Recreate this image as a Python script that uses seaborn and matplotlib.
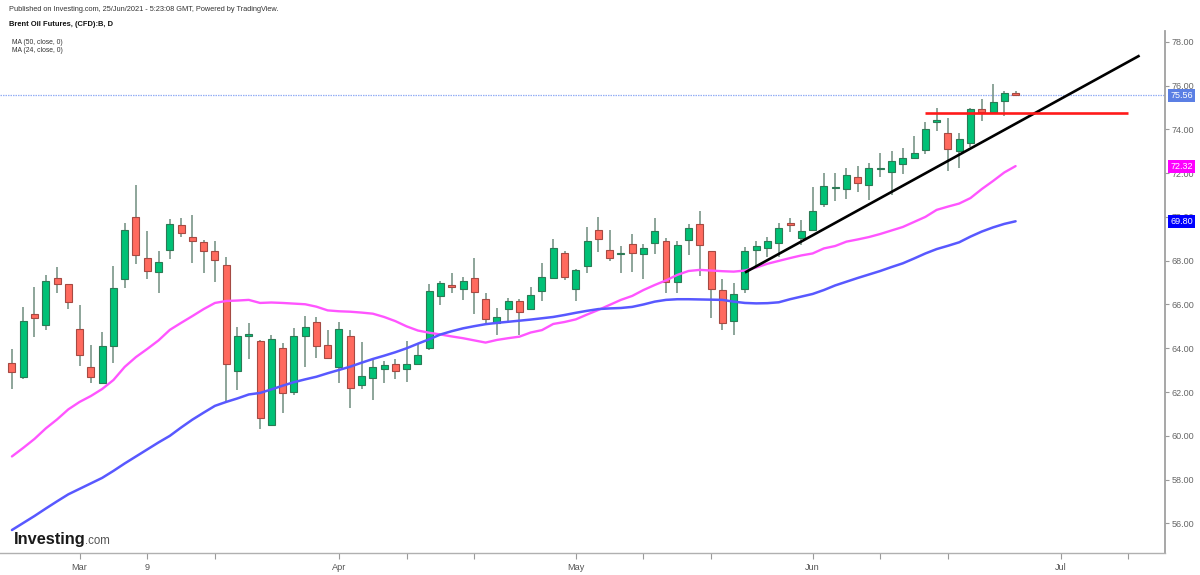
import numpy as np
import pandas as pd
import matplotlib
matplotlib.use("Agg")
import matplotlib.pyplot as plt
import seaborn as sns
from matplotlib.transforms import blended_transform_factory

sns.set_style("white")
plt.rcParams["font.family"] = ["Liberation Sans", "DejaVu Sans"]

# ---------------- data ----------------
first_day = "2021-02-19"
holidays = ["2021-04-02"]

opens = [63.34, 62.69, 65.55, 65.05, 67.21, 66.92, 64.88, 63.13, 62.40, 64.11,
         67.18, 69.98, 68.14, 67.47, 68.47, 69.63, 69.10, 68.84, 68.44, 67.80,
         62.98, 64.58, 64.35, 60.51, 64.00, 62.02, 64.58, 65.21, 64.15, 63.13,
         64.58, 62.32, 62.63, 63.04, 63.28, 63.04, 63.27, 64.03, 66.39, 66.89,
         66.72, 67.21, 66.24, 65.14, 65.79, 66.15, 65.78, 66.63, 67.21, 68.37,
         66.72, 67.77, 69.39, 68.49, 68.30, 68.76, 68.31, 68.79, 68.91, 67.01,
         68.95, 69.66, 68.43, 66.66, 65.26, 66.72, 68.49, 68.59, 68.79, 69.74,
         69.02, 69.40, 70.58, 71.33, 71.27, 71.84, 71.46, 72.20, 72.06, 72.42,
         72.70, 73.05, 74.32, 73.84, 73.02, 73.36, 74.93, 74.78, 75.31, 75.66]
highs = [63.97, 65.90, 66.81, 67.33, 67.73, 66.95, 65.96, 64.15, 64.73, 67.77,
         69.74, 71.46, 69.36, 68.44, 69.89, 69.94, 70.09, 68.95, 68.91, 68.18,
         64.99, 65.14, 64.40, 64.61, 64.23, 64.91, 65.47, 65.44, 64.84, 65.19,
         64.84, 64.30, 63.54, 63.43, 63.53, 64.35, 64.20, 66.92, 67.07, 67.42,
         67.24, 68.11, 66.54, 65.85, 66.28, 66.26, 66.79, 67.88, 68.98, 68.46,
         67.62, 69.55, 70.01, 69.40, 68.68, 69.22, 68.76, 69.94, 69.05, 68.91,
         69.68, 70.28, 68.44, 67.16, 66.97, 68.64, 68.90, 69.10, 69.71, 69.94,
         69.86, 71.35, 72.02, 72.02, 72.22, 72.32, 72.47, 72.93, 73.01, 73.13,
         73.69, 74.35, 74.99, 74.53, 73.82, 74.99, 75.37, 76.07, 75.76, 75.74]
lows = [62.13, 62.58, 64.50, 64.82, 66.54, 65.78, 63.19, 62.43, 62.35, 63.34,
        66.74, 67.86, 67.16, 66.54, 68.06, 69.10, 67.88, 67.42, 67.01, 61.53,
        62.10, 63.50, 60.30, 60.45, 61.03, 61.87, 63.16, 63.57, 63.50, 62.43,
        61.26, 62.13, 61.64, 62.43, 62.60, 62.46, 63.24, 63.92, 65.98, 66.51,
        66.21, 65.57, 65.06, 64.61, 65.21, 64.61, 65.75, 66.17, 67.18, 67.12,
        66.17, 67.42, 68.41, 68.00, 67.42, 67.47, 67.15, 68.29, 66.51, 66.54,
        68.26, 67.30, 65.37, 64.84, 64.61, 66.51, 67.76, 68.18, 68.18, 69.32,
        68.72, 69.35, 70.47, 70.74, 70.80, 71.15, 70.77, 71.84, 71.00, 71.96,
        72.63, 72.86, 73.94, 72.10, 72.25, 73.21, 74.38, 74.75, 74.61, 75.52]
closes = [62.92, 65.25, 65.40, 67.07, 66.92, 66.13, 63.69, 62.69, 64.11, 66.77,
          69.40, 68.25, 67.54, 67.93, 69.66, 69.25, 68.91, 68.43, 68.02, 63.30,
          64.56, 64.63, 60.80, 64.44, 61.95, 64.58, 64.99, 64.12, 63.54, 64.88,
          62.17, 62.74, 63.16, 63.22, 62.96, 63.27, 63.68, 66.62, 66.97, 66.79,
          67.07, 66.58, 65.32, 65.43, 66.15, 65.64, 66.42, 67.27, 68.57, 67.27,
          67.58, 68.91, 68.98, 68.11, 68.33, 68.37, 68.59, 69.37, 67.04, 68.72,
          69.51, 68.72, 66.69, 65.14, 66.47, 68.46, 68.68, 68.91, 69.51, 69.64,
          69.36, 70.28, 71.41, 71.37, 71.91, 71.53, 72.25, 72.24, 72.55, 72.70,
          72.90, 74.01, 74.42, 73.11, 73.54, 74.94, 74.80, 75.25, 75.64, 75.56]

ma50 = [55.70, 56.02, 56.34, 56.68, 57.01, 57.33, 57.58, 57.83, 58.08, 58.40,
        58.74, 59.06, 59.38, 59.70, 60.00, 60.38, 60.74, 61.06, 61.37, 61.55,
        61.71, 61.89, 61.96, 62.12, 62.29, 62.45, 62.58, 62.70, 62.86, 63.01,
        63.16, 63.34, 63.51, 63.66, 63.82, 64.00, 64.21, 64.41, 64.63, 64.78,
        64.91, 65.01, 65.10, 65.16, 65.21, 65.26, 65.31, 65.37, 65.43, 65.52,
        65.62, 65.71, 65.79, 65.82, 65.84, 65.89, 66.00, 66.13, 66.21, 66.24,
        66.24, 66.23, 66.22, 66.21, 66.13, 66.07, 66.05, 66.06, 66.10, 66.24,
        66.36, 66.48, 66.66, 66.87, 67.04, 67.21, 67.37, 67.53, 67.71, 67.88,
        68.10, 68.33, 68.53, 68.68, 68.84, 69.10, 69.33, 69.52, 69.68, 69.80]
ma24 = [59.06, 59.45, 59.86, 60.34, 60.75, 61.21, 61.55, 61.82, 62.14, 62.55,
        63.15, 63.60, 63.97, 64.36, 64.84, 65.16, 65.47, 65.79, 66.07, 66.16,
        66.18, 66.21, 66.07, 66.09, 66.07, 66.04, 66.01, 65.90, 65.73, 65.69,
        65.67, 65.63, 65.58, 65.43, 65.24, 65.00, 64.81, 64.71, 64.63, 64.54,
        64.46, 64.36, 64.26, 64.38, 64.46, 64.53, 64.72, 64.83, 65.11, 65.20,
        65.32, 65.54, 65.75, 65.98, 66.21, 66.39, 66.66, 66.89, 67.10, 67.35,
        67.53, 67.58, 67.55, 67.52, 67.50, 67.55, 67.69, 67.86, 67.99, 68.12,
        68.24, 68.33, 68.56, 68.67, 68.87, 68.97, 69.08, 69.22, 69.38, 69.54,
        69.77, 70.00, 70.32, 70.47, 70.61, 70.86, 71.27, 71.64, 72.03, 72.32]

last_price = 75.56
tick_dates = ["2021-03-01", "2021-03-09", "2021-03-17", "2021-04-01", "2021-04-12",
              "2021-04-20", "2021-05-03", "2021-05-11", "2021-05-19", "2021-06-01",
              "2021-06-09", "2021-06-17", "2021-07-01", "2021-07-09"]
tick_labels = ["Mar", "9", "", "Apr", "", "", "May", "", "", "Jun", "", "", "Jul", ""]
y_ticks = [56, 58, 60, 62, 64, 66, 68, 70, 72, 74, 76, 78]
trend_dates = ["2021-05-24", "2021-07-12"]
trend_prices = [67.46, 77.37]
resist_dates = ["2021-06-15", "2021-07-09"]
resist_prices = [74.76, 74.76]

title_pub = "Published on Investing.com, 25/Jun/2021 - 5:23:08 GMT, Powered by TradingView."
title_sym = "Brent Oil Futures, (CFD):B, D"
legend_ma50 = "MA (50, close, 0)"
legend_ma24 = "MA (24, close, 0)"

# ---------------- calendar ----------------
cal = pd.bdate_range(first_day, "2021-08-31")
cal = cal[~cal.isin(pd.to_datetime(holidays))]
pos = {d: i for i, d in enumerate(cal)}
def xpos(d):
    return pos[pd.Timestamp(d)]

n = len(closes)
df = pd.DataFrame({"x": np.arange(n), "open": opens, "high": highs, "low": lows,
                   "close": closes, "ma50": ma50, "ma24": ma24})
df["up"] = df["close"] >= df["open"]

# ---------------- figure ----------------
W, H = 1200, 575
fig = plt.figure(figsize=(W / 100, H / 100), dpi=100)
ax_left, ax_right, ax_top, ax_bot = 0, 1165, 31, 553
ax = fig.add_axes([ax_left / W, 1 - ax_bot / H, (ax_right - ax_left) / W, (ax_bot - ax_top) / H])

up_face, up_edge = "#00c176", "#2c7a55"
dn_face, dn_edge = "#ff6a5e", "#a54a43"
wick_col = "#6f8d7e"

ax.vlines(df["x"], df["low"], df["high"], color=wick_col, lw=1.1, zorder=2)
body_bottom = np.minimum(df["open"], df["close"])
body_h = np.maximum((df["close"] - df["open"]).abs(), 0.04)
faces = np.where(df["up"], up_face, dn_face)
edges = np.where(df["up"], up_edge, dn_edge)
ax.bar(df["x"], body_h, bottom=body_bottom, width=0.62, color=faces,
       edgecolor=edges, linewidth=0.8, zorder=3)

sns.lineplot(data=df, x="x", y="ma24", color="#ff55ff", lw=1.7, ax=ax, zorder=4)
sns.lineplot(data=df, x="x", y="ma50", color="#5858ff", lw=1.8, ax=ax, zorder=4)

ax.axhline(last_price, color="#93aef5", lw=0.9, ls=(0, (1.2, 0.8)), zorder=1)

ax.plot([xpos(d) for d in trend_dates], trend_prices, color="black", lw=1.9, zorder=5,
        solid_capstyle="butt")
ax.plot([xpos(d) for d in resist_dates], resist_prices, color="#ff1a1a", lw=1.9, zorder=5,
        solid_capstyle="butt")

# axes ranges: pixel -> data
px_per_day = (xpos("2021-06-01") - xpos("2021-03-01"))
x0 = xpos("2021-03-01") - (79.6 - ax_left) / (733.0 / px_per_day)
x1 = xpos("2021-03-01") + (ax_right - 79.6) / (733.0 / px_per_day)
ax.set_xlim(x0, x1)
ax.set_ylim(54.65, 78.49)

ax.set_xlabel("")
ax.set_ylabel("")
ax.set_xticks([xpos(d) for d in tick_dates])
ax.set_xticklabels(tick_labels)
ax.set_yticks(y_ticks)
ax.set_yticklabels([f"{v:.2f}" for v in y_ticks])
ax.yaxis.tick_right()
ax.tick_params(axis="x", direction="out", length=4, width=0.8, color="#9a9a9a",
               labelsize=6.6, labelcolor="#555555", pad=3, bottom=True)
ax.tick_params(axis="y", direction="out", length=3, width=0.8, color="#9a9a9a",
               labelsize=6.5, labelcolor="#666666", pad=2, right=True, left=False)
for s in ["top", "left"]:
    ax.spines[s].set_visible(False)
ax.spines["right"].set_color("#a0a0a0")
ax.spines["right"].set_linewidth(1.3)
ax.spines["bottom"].set_color("#b0b0b0")
ax.spines["bottom"].set_linewidth(1.0)
ax.grid(False)
if ax.get_legend():
    ax.get_legend().remove()

# value boxes on the price axis
tr = blended_transform_factory(ax.transAxes, ax.transData)
for val, col in [(last_price, "#5b7fe4"), (ma24[-1], "#ff00ff"), (ma50[-1], "#0000ff")]:
    ax.text(1.0045, val, f"{val:.2f}", transform=tr, ha="left", va="center",
            color="white", fontsize=6.5, zorder=10, clip_on=False,
            bbox=dict(boxstyle="square,pad=0.22", fc=col, ec="none"))

# header texts
def ftext(x, y, s, **kw):
    fig.text(x / W, 1 - y / H, s, **kw)

ftext(9, 9.3, title_pub, fontsize=5.3, color="#333333", va="center")
ftext(9, 24, title_sym, fontsize=5.4, color="#111111", va="center", fontweight="bold")
ftext(11.5, 42.7, legend_ma50, fontsize=4.9, color="#333333", va="center")
ftext(11.5, 50.7, legend_ma24, fontsize=4.9, color="#333333", va="center")

# logo
ftext(14, 544, "Investing", fontsize=11.8, fontweight="bold", color="#1a1a1a", va="baseline")
ftext(84.5, 544, ".com", fontsize=8.3, color="#555555", va="baseline")

fig.savefig("out.png", dpi=100)
